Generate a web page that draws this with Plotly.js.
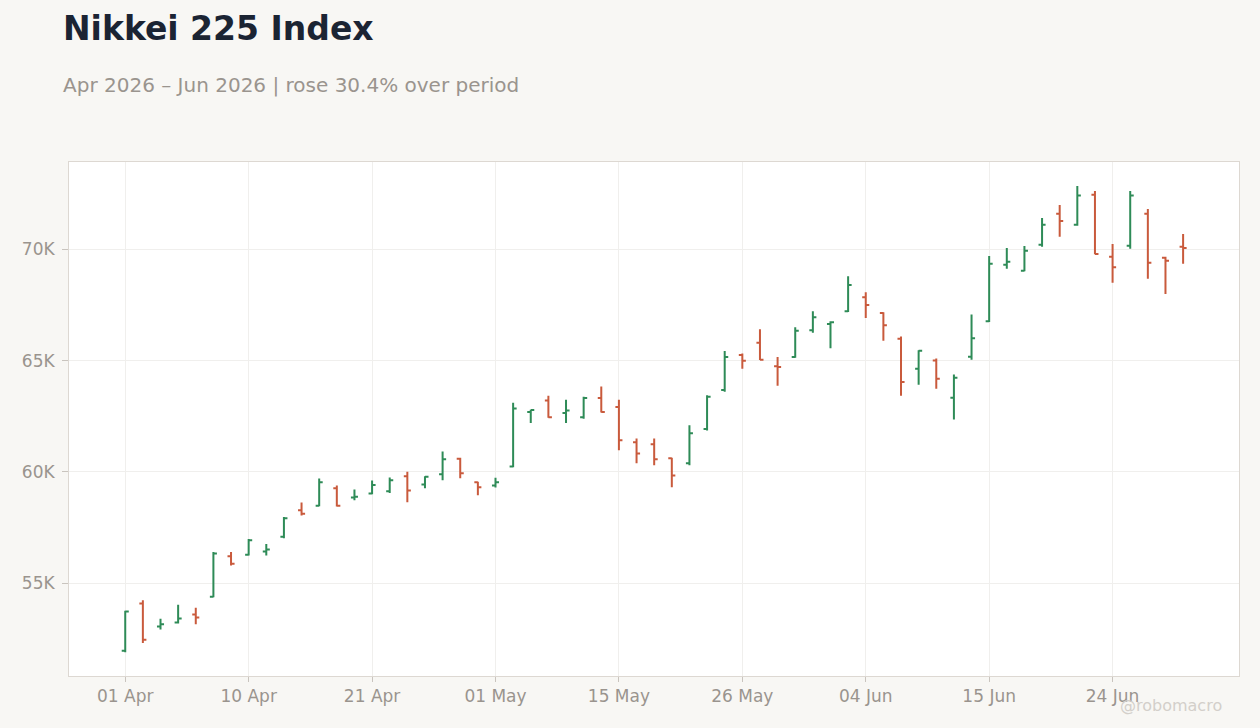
<!DOCTYPE html>
<html>
<head>
<meta charset="utf-8">
<script src="https://cdn.plot.ly/plotly-3.0.1.min.js"></script>
<style>
  html, body { margin: 0; padding: 0; background: #f8f7f4; }
  #chart { width: 1260px; height: 728px; }
</style>
</head>
<body>
<div id="chart"></div>
<script>
// trading days (TSE holidays skipped)
const dates = [
  '2026-04-01','2026-04-02','2026-04-03','2026-04-06','2026-04-07','2026-04-08','2026-04-09','2026-04-10',
  '2026-04-13','2026-04-14','2026-04-15','2026-04-16','2026-04-17','2026-04-20','2026-04-21','2026-04-22',
  '2026-04-23','2026-04-24','2026-04-27','2026-04-28','2026-04-30','2026-05-01','2026-05-07','2026-05-08',
  '2026-05-11','2026-05-12','2026-05-13','2026-05-14','2026-05-15','2026-05-18','2026-05-19','2026-05-20',
  '2026-05-21','2026-05-22','2026-05-25','2026-05-26','2026-05-27','2026-05-28','2026-05-29','2026-06-01',
  '2026-06-02','2026-06-03','2026-06-04','2026-06-05','2026-06-08','2026-06-09','2026-06-10','2026-06-11',
  '2026-06-12','2026-06-15','2026-06-16','2026-06-17','2026-06-18','2026-06-19','2026-06-22','2026-06-23',
  '2026-06-24','2026-06-25','2026-06-26','2026-06-29','2026-06-30'
];

const openPx = [
  51960, 54080, 53040, 53220, 53580, 54380, 56200, 56270,
  56420, 57080, 58270, 58480, 59260, 58850, 59020, 59130,
  59800, 59430, 59890, 60590, 59530, 59380, 60240, 62690,
  63210, 62640, 62450, 63320, 62910, 61330, 61240, 60610,
  60390, 61930, 63680, 65250, 65800, 64750, 65160, 66370,
  66650, 67220, 67850, 67140, 65980, 64630, 65000, 63330,
  65170, 66770, 69310, 69040, 70210, 71600, 71110, 72460,
  69670, 70160, 71600, 69620, 70120
];
const highPx = [
  53750, 54230, 53390, 54020, 53890, 56400, 56400, 56980,
  56760, 57970, 58620, 59700, 59380, 59200, 59610, 59740,
  60000, 59800, 60910, 60630, 59550, 59730, 63110, 62790,
  63420, 63240, 63380, 63840, 63240, 61500, 61500, 60630,
  62090, 63440, 65430, 65320, 66410, 65160, 66500, 67220,
  66770, 68790, 68070, 67170, 66080, 65470, 65100, 64380,
  67070, 69700, 70060, 70150, 71410, 72000, 72850, 72630,
  70240, 72630, 71820, 69670, 70690
];
const lowPx = [
  51890, 52300, 52910, 53180, 53150, 54360, 55790, 56240,
  56240, 57010, 58040, 58450, 58440, 58720, 58990, 59050,
  58630, 59260, 59620, 59710, 58950, 59300, 60210, 62190,
  62430, 62190, 62390, 62670, 60970, 60390, 60300, 59310,
  60300, 61860, 63600, 64630, 65030, 63870, 65130, 66250,
  65560, 67190, 66920, 65890, 63420, 63920, 63740, 62350,
  65040, 66740, 69130, 69020, 70120, 70570, 71060, 69780,
  68500, 70030, 68680, 68000, 69350
];
const closePx = [
  53720, 52450, 53150, 53400, 53450, 56330, 55870, 56920,
  56510, 57910, 58120, 59530, 58470, 58880, 59410, 59620,
  59160, 59780, 60570, 59940, 59310, 59530, 62850, 62780,
  62450, 62760, 63320, 62690, 61420, 60820, 60570, 59830,
  61730, 63380, 65160, 64990, 65040, 64710, 66340, 66950,
  66730, 68400, 67500, 66590, 64040, 65440, 64190, 64230,
  66010, 69350, 69440, 69940, 71110, 71280, 72420, 69790,
  69200, 72420, 69400, 69490, 70060
];

const xTickVals = ['2026-04-01','2026-04-10','2026-04-21','2026-05-01','2026-05-15','2026-05-26','2026-06-04','2026-06-15','2026-06-24'];
const xTickText = ['01 Apr','10 Apr','21 Apr','01 May','15 May','26 May','04 Jun','15 Jun','24 Jun'];
const yTickVals = [55000, 60000, 65000, 70000];
const yTickText = ['55K', '60K', '65K', '70K'];

const font = 'DejaVu Sans, sans-serif';
const grey = '#9a948e';

const trace = {
  type: 'ohlc',
  x: dates,
  open: openPx,
  high: highPx,
  low: lowPx,
  close: closePx,
  tickwidth: 0.2,
  increasing: { line: { color: '#2e8b57', width: 2 } },
  decreasing: { line: { color: '#c95a3c', width: 2 } },
  hoverinfo: 'skip',
  showlegend: false
};

const layout = {
  width: 1260,
  height: 728,
  paper_bgcolor: '#f8f7f4',
  plot_bgcolor: '#ffffff',
  margin: { l: 69, r: 21, t: 162, b: 52 },
  font: { family: font, color: grey, size: 17 },
  title: {
    text: '<b>Nikkei 225 Index</b>',
    font: { family: font, size: 33, color: '#1b2433' },
    xref: 'container', x: 63 / 1260, xanchor: 'left',
    yref: 'container', y: 1 - 28 / 728, yanchor: 'middle'
  },
  annotations: [
    {
      text: 'Apr 2026 – Jun 2026 | rose 30.4% over period',
      xref: 'paper', yref: 'paper',
      x: (61 - 69) / 1170, y: (676 - 85) / 514,
      xanchor: 'left', yanchor: 'middle',
      showarrow: false,
      font: { family: font, size: 20, color: grey }
    },
    {
      text: '@robomacro',
      xref: 'paper', yref: 'paper',
      x: (1224 - 69) / 1170, y: (676 - 705) / 514,
      xanchor: 'right', yanchor: 'middle',
      showarrow: false,
      font: { family: font, size: 16, color: '#d3cfca' }
    }
  ],
  xaxis: {
    type: 'category',
    range: [-3.19, 63.17],
    rangeslider: { visible: false },
    tickvals: xTickVals,
    ticktext: xTickText,
    ticks: 'outside', ticklen: 5, tickcolor: '#c9c4be',
    showgrid: true, gridcolor: '#f0efed', gridwidth: 1,
    showline: true, linecolor: '#ddd8d2', linewidth: 1, mirror: true,
    tickfont: { size: 17, color: grey },
    fixedrange: true
  },
  yaxis: {
    range: [50820, 73930],
    tickvals: yTickVals,
    ticktext: yTickText,
    ticks: 'outside', ticklen: 6, tickcolor: '#c9c4be',
    showgrid: true, gridcolor: '#f0efed', gridwidth: 1,
    showline: true, linecolor: '#ddd8d2', linewidth: 1, mirror: true,
    zeroline: false,
    tickfont: { size: 17, color: grey },
    ticklabelstandoff: 4,
    fixedrange: true
  }
};

Plotly.newPlot('chart', [trace], layout, { displayModeBar: false, staticPlot: true });
</script>
</body>
</html>
